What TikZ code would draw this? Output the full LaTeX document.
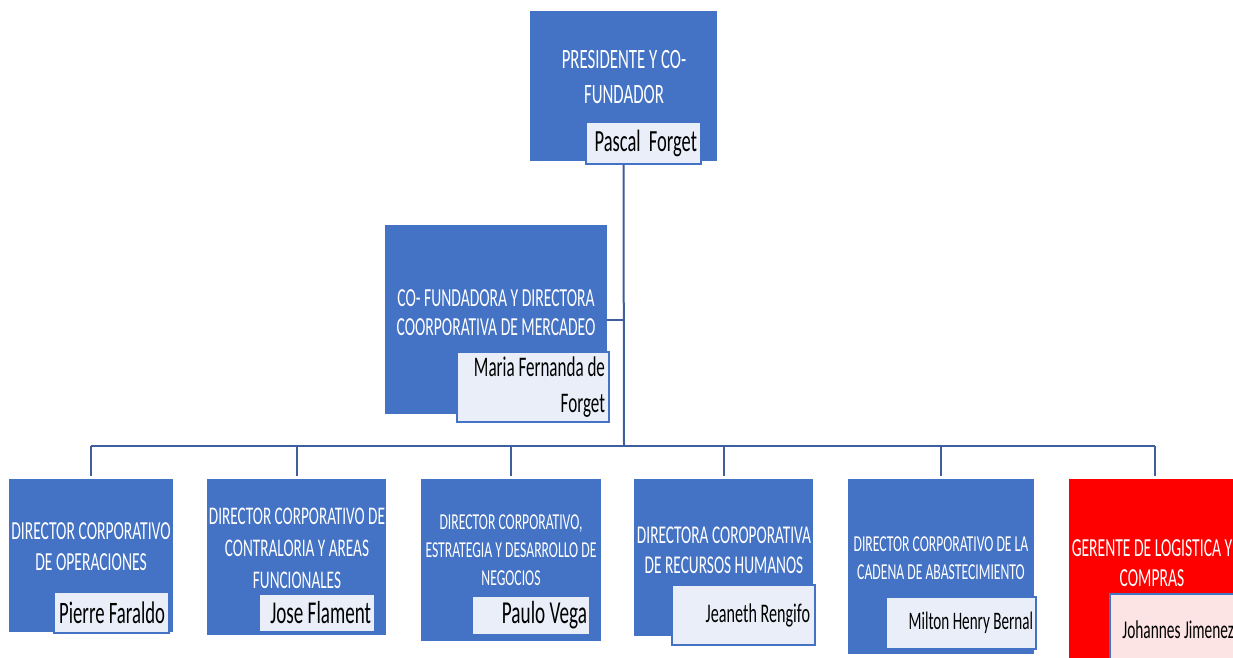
\documentclass[tikz,border=0pt]{standalone}
\usepackage{fontspec}
\setmainfont{Carlito}[FakeStretch=0.6]
\usepackage{tikz}
\usetikzlibrary{positioning}

\definecolor{boxblue}{HTML}{4472C4}
\definecolor{namefill}{HTML}{EAEEF8}
\definecolor{lineblue}{HTML}{3F5E9E}
\definecolor{boxred}{HTML}{FF0000}
\definecolor{namepink}{HTML}{FCE4E4}

\begin{document}
\begin{tikzpicture}[x=0.5pt, y=-0.5pt,
    box/.style={fill=boxblue, inner sep=0pt},
    title/.style={text=white, align=center, inner sep=0pt, font=\fontsize{13}{15.5}\selectfont},
    namebox/.style={fill=namefill, draw=boxblue, line width=0.6pt, inner xsep=2pt, inner ysep=0pt, align=flush right, font=\fontsize{15.6}{18}\selectfont},
    orgline/.style={draw=lineblue, line width=1pt}]

    \path[use as bounding box, clip] (0,0) rectangle (1233,658);

    % Nodes
    \node [box, minimum width=93.5pt, minimum height=75pt] (pres) at (623.5,86) {};
    \node [title, font=\fontsize{14}{17.5}\selectfont] (pres_title) at (624,77.5) {PRESIDENTE Y CO-\\FUNDADOR};
    \node [namebox, text width=53.5pt, minimum height=21pt, font=\fontsize{15.4}{18}\selectfont] (pres_name) at (643.5,143) {Pascal~~Forget};

    \node [box, minimum width=111pt, minimum height=94.5pt] (cofund) at (496,319.5) {};
    \node [title, font=\fontsize{13}{14.5}\selectfont] (cofund_title) at (496,312.5) {CO- FUNDADORA Y DIRECTORA\\COORPORATIVA DE MERCADEO};
    \node [namebox, text width=72pt, minimum height=35pt, font=\fontsize{14.2}{18}\selectfont] (cofund_name) at (533,387) {Maria~Fernanda~de\\Forget};

    \node [box, minimum width=82pt, minimum height=76.5pt] (b1) at (91,555.5) {};
    \node [title] (b1_title) at (91,546.5) {DIRECTOR CORPORATIVO\\DE OPERACIONES};
    \node [namebox, text width=53.5pt, minimum height=20.5pt] (b1_name) at (111.5,612.5) {Pierre~Faraldo};

    \node [box, minimum width=89.5pt, minimum height=78pt] (b2) at (296.5,557) {};
    \node [title, font=\fontsize{12.7}{16}\selectfont] (b2_title) at (297,548) {DIRECTOR CORPORATIVO DE\\CONTRALORIA Y AREAS\\FUNCIONALES};
    \node [namebox, text width=54pt, minimum height=19pt, font=\fontsize{15.9}{18}\selectfont] (b2_name) at (317,613) {Jose~Flament};

    \node [box, minimum width=90pt, minimum height=81pt] (b3) at (511,560) {};
    \node [title, font=\fontsize{11.4}{14}\selectfont] (b3_title) at (511,550) {DIRECTOR CORPORATIVO,\\ESTRATEGIA Y DESARROLLO DE\\NEGOCIOS};
    \node [namebox, text width=56pt, minimum height=19.5pt, inner xsep=1.5pt, font=\fontsize{16}{18}\selectfont] (b3_name) at (531,615.5) {Paulo~Vega};

    \node [box, minimum width=89.5pt, minimum height=78.5pt] (b4) at (723.5,557.5) {};
    \node [title, font=\fontsize{12.8}{15}\selectfont] (b4_title) at (724,550) {DIRECTORA COROPORATIVA\\DE RECURSOS HUMANOS};
    \node [namebox, text width=66.5pt, minimum height=30pt, inner xsep=2.5pt, font=\fontsize{13.45}{16}\selectfont] (b4_name) at (743.5,615) {Jeaneth~Rengifo};

    \node [box, minimum width=93pt, minimum height=87.5pt] (b5) at (941,566.5) {};
    \node [title, font=\fontsize{11.4}{14}\selectfont] (b5_title) at (941,558) {DIRECTOR CORPORATIVO DE LA\\CADENA DE ABASTECIMIENTO};
    \node [namebox, text width=72pt, minimum height=26pt, inner xsep=1.5pt, font=\fontsize{12.6}{16}\selectfont] (b5_name) at (961,623) {Milton~Henry~Bernal};

    \node [box, fill=boxred, minimum width=85.5pt, minimum height=100.5pt] (b6) at (1154.5,579.5) {};
    \node [title, font=\fontsize{13}{15}\selectfont] (b6_title) at (1152,563) {GERENTE DE LOGISTICA Y\\COMPRAS};
    \node [namebox, fill=namepink, text width=60pt, minimum height=35.5pt, font=\fontsize{12.8}{16}\selectfont] (b6_name) at (1174,629.5) {Johannes~Jimenez};

    % Lines
    \coordinate (bar) at (624,446);
    \draw[orgline] (pres_name.south -| pres.south) -- (bar);
    \draw[orgline] (cofund.east) -- (cofund.east -| bar);
    \draw[orgline] (bar -| b1.north) -- (bar -| b6.north);
    \foreach \b in {b1,b2,b3,b4,b5,b6}
        \draw[orgline] (bar -| \b.north) -- ([yshift=1.5pt]\b.north);

\end{tikzpicture}
\end{document}
